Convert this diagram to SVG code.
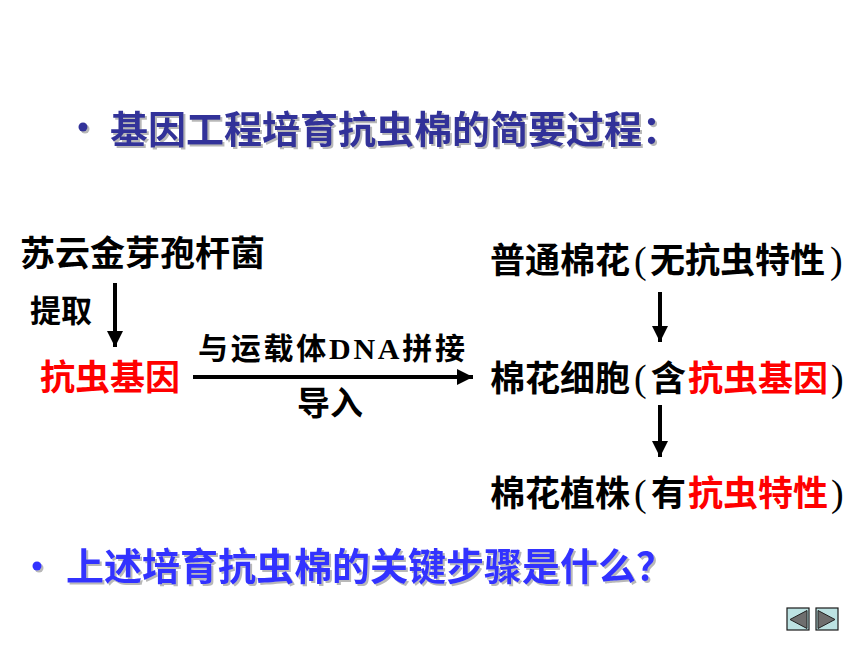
<svg xmlns="http://www.w3.org/2000/svg" width="860" height="645" viewBox="0 0 860 645">
  <style>
    text { font-family: "Noto Sans CJK SC", "Liberation Sans", sans-serif; font-weight: 700; }
    .t { fill: #000000; }
    .r { fill: #FF0000; }
    .lat { font-family: "Liberation Serif", "Noto Sans CJK SC", serif; font-weight: 700; }
    .par { font-family: "Liberation Serif", "Noto Sans CJK SC", serif; font-weight: 400; font-size: 38px; }
    .title { fill: #333399; font-size: 38px; }
    .q { fill: #3333FF; font-size: 38px; }
    .arrow { stroke: #000000; stroke-width: 4; fill: none; }
    .btn { fill: #BCE2E2; stroke: #1A1A1A; stroke-width: 1.2; }
    .tri { fill: #6E6E6E; stroke: #202020; stroke-width: 1; }
  </style>
  <defs>
    <filter id="shadow" x="-5%" y="-20%" width="110%" height="140%">
      <feDropShadow dx="2" dy="2" stdDeviation="0.6" flood-color="#888888" flood-opacity="0.6"/>
    </filter>
    <marker id="head" markerUnits="userSpaceOnUse" markerWidth="18" markerHeight="18" refX="16" refY="8" orient="auto">
      <polygon points="0,0 16,8 0,16" fill="#000000"/>
    </marker>
  </defs>
  <rect width="860" height="645" fill="#FFFFFF"/>

  <g id="title" filter="url(#shadow)">
    <circle cx="83" cy="127" r="4.5" fill="#333399"/>
    <text class="title" x="110" y="143">基因工程培育抗虫棉的简要过程：</text>
  </g>

  <g id="node-bacteria">
    <text class="t" x="20" y="266" font-size="35">苏云金芽孢杆菌</text>
  </g>
  <g id="label-extract">
    <text class="t" x="30" y="322" font-size="31">提取</text>
  </g>
  <g id="node-gene">
    <text class="r" x="40" y="390" font-size="35">抗虫基因</text>
  </g>
  <g id="label-splice">
    <text class="t" x="198" y="359" font-size="30" textLength="267" lengthAdjust="spacing">与运载体<tspan class="lat">DNA</tspan>拼接</text>
  </g>
  <g id="label-import">
    <text class="t" x="297" y="415" font-size="33">导入</text>
  </g>

  <g id="node-cotton">
    <text class="t" font-size="35" y="273"><tspan x="490">普通棉花</tspan><tspan class="par" x="634">(</tspan><tspan x="650">无抗虫特性</tspan><tspan class="par" x="830">)</tspan></text>
  </g>
  <g id="node-cell">
    <text class="t" font-size="35" y="391"><tspan x="490">棉花细胞</tspan><tspan class="par" x="634">(</tspan><tspan x="651">含</tspan><tspan class="r" x="688">抗虫基因</tspan><tspan class="par" x="831">)</tspan></text>
  </g>
  <g id="node-plant">
    <text class="t" font-size="35" y="506"><tspan x="490">棉花植株</tspan><tspan class="par" x="634">(</tspan><tspan x="651">有</tspan><tspan class="r" x="688">抗虫特性</tspan><tspan class="par" x="831">)</tspan></text>
  </g>

  <g id="connectors">
    <line class="arrow" x1="115" y1="283" x2="115" y2="347" marker-end="url(#head)"/>
    <line class="arrow" x1="193" y1="377" x2="473" y2="377" marker-end="url(#head)"/>
    <line class="arrow" x1="660" y1="292" x2="660" y2="342" marker-end="url(#head)"/>
    <line class="arrow" x1="660" y1="405" x2="660" y2="457" marker-end="url(#head)"/>
  </g>

  <g id="question" filter="url(#shadow)">
    <circle cx="37" cy="566" r="4.5" fill="#3333FF"/>
    <text class="q" x="66" y="580">上述培育抗虫棉的关键步骤是什么？</text>
  </g>

  <g id="nav-prev">
    <rect class="btn" x="787" y="608" width="22" height="22"/>
    <polygon class="tri" points="790,619.5 807,610.5 807,628.5"/>
  </g>
  <g id="nav-next">
    <rect class="btn" x="816" y="608" width="22" height="22"/>
    <polygon class="tri" points="835,619.5 818,610.5 818,628.5"/>
  </g>
</svg>
